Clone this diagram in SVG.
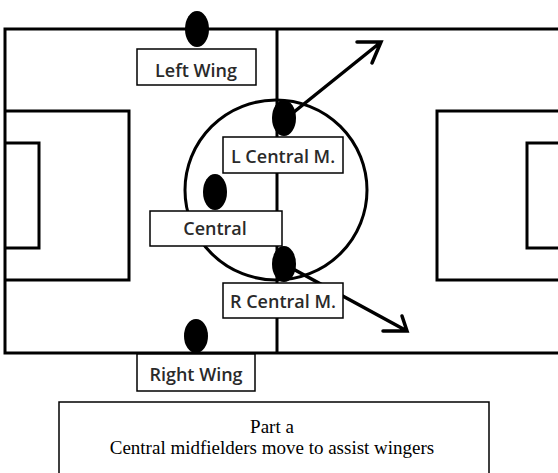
<svg xmlns="http://www.w3.org/2000/svg" width="558" height="473" viewBox="0 0 558 473">
<style>
.f{fill:none;stroke:#000;stroke-width:3}
.box{fill:#fff;stroke:#000;stroke-width:1.5}
.dot{fill:#000}
.lbl{font-family:"Open Sans","DejaVu Sans",sans-serif;font-size:18px;font-weight:600;fill:#2a2a2a;text-anchor:middle}
.cap{font-family:"Liberation Serif",serif;font-size:19px;fill:#000;text-anchor:middle}
.arr{fill:none;stroke:#000;stroke-width:3.5;stroke-linecap:round}
</style>
<rect width="558" height="473" fill="#fff"/>
<g id="field">
<path class="f" d="M560 29 H5 V353 H560"/>
<line class="f" x1="277" y1="29" x2="277" y2="353"/>
<path class="f" d="M5 111 H129 V280 H5"/>
<path class="f" d="M5 143 H39 V248 H5"/>
<path class="f" d="M560 111 H437 V280 H560"/>
<path class="f" d="M560 143 H527 V248 H560"/>
<ellipse class="f" cx="276" cy="190" rx="91" ry="90"/>
</g>
<g id="connectors">
<path class="arr" d="M284 120 L381 42 M357 42 L381 42 L372 63"/>
<path class="arr" d="M284 264 L407 331 M383 331 L407 331 L402 316"/>
</g>
<g id="left-wing">
<ellipse class="dot" cx="197" cy="29" rx="12" ry="18"/>
<rect class="box" x="137" y="49" width="119" height="36"/>
<text class="lbl" x="196" y="77">Left Wing</text>
</g>
<g id="l-central">
<ellipse class="dot" cx="284" cy="118" rx="12" ry="18"/>
<rect class="box" x="223" y="137" width="120" height="36"/>
<text class="lbl" x="283" y="163">L Central M.</text>
</g>
<g id="central">
<ellipse class="dot" cx="215" cy="192" rx="12" ry="18"/>
<rect class="box" x="150" y="211" width="132" height="35"/>
<text class="lbl" x="215" y="235">Central</text>
</g>
<g id="r-central">
<ellipse class="dot" cx="284" cy="264" rx="12" ry="18"/>
<rect class="box" x="223" y="283" width="120" height="35"/>
<text class="lbl" x="283" y="308">R Central M.</text>
</g>
<g id="right-wing">
<ellipse class="dot" cx="196" cy="336" rx="12" ry="17"/>
<rect class="box" x="137" y="354" width="118" height="37"/>
<text class="lbl" x="196" y="381">Right Wing</text>
</g>
<g id="caption">
<path fill="none" stroke="#000" stroke-width="1.5" d="M59 475 V402 H489 V475"/>
<text class="cap" x="272" y="433">Part a</text>
<text class="cap" x="272" y="454">Central midfielders move to assist wingers</text>
</g>
</svg>
